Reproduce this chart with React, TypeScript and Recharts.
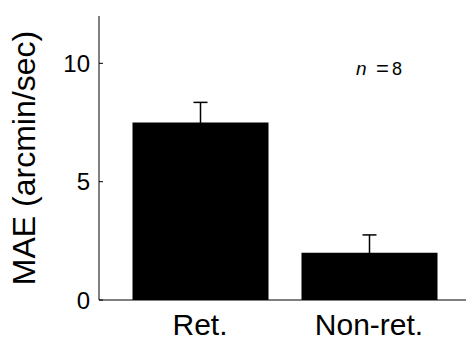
import { Bar, BarChart, ErrorBar, XAxis, YAxis } from 'recharts'

const groups = ['Ret.', 'Non-ret.']
const means = [7.5, 2.0]
const sems = [0.85, 0.75]
const yTicks = [0, 5, 10]

const rows = groups.map((name, i) => ({ name, mae: means[i], err: sems[i] }))

const font = '"Liberation Sans", Arial, sans-serif'

function YTick({ x, y, payload }: any) {
  return (
    <g>
      <line x1={x} x2={x + 4} y1={y} y2={y} stroke="#000" />
      <text x={x - 9} y={y} dy="0.36em" textAnchor="end" fontSize={24} fontFamily={font} fill="#000">
        {payload.value}
      </text>
    </g>
  )
}

function YLabel({ viewBox }: any) {
  const cy = viewBox.y + viewBox.height / 2
  return (
    <text
      x={35}
      y={cy}
      transform={`rotate(-90, 35, ${cy})`}
      textAnchor="middle"
      fontSize={32}
      fontFamily={font}
      fill="#000"
    >
      MAE (arcmin/sec)
    </text>
  )
}

export default function App() {
  return (
    <div style={{ position: 'relative', width: 466, height: 342, overflow: 'hidden', background: '#fff' }}>
      <style>{'body{margin:0}'}</style>
      <BarChart width={470} height={342} data={rows} margin={{ top: 16, right: 0, bottom: 0, left: 0 }} barCategoryGap={0}>
        <XAxis
          dataKey="name"
          padding={{ left: 16.5, right: 16.5 }}
          tickLine={false}
          tickSize={0}
          tickMargin={14}
          height={42}
          axisLine={{ stroke: '#000' }}
          tick={{ fontSize: 30, fontFamily: font, fill: '#000' }}
        />
        <XAxis xAxisId="top" dataKey="name" orientation="top" height={0} tick={false} tickLine={false} axisLine={{ stroke: '#000' }} />
        <YAxis
          domain={[0, 12]}
          ticks={yTicks}
          width={99}
          tickSize={0}
          tickMargin={0}
          axisLine={{ stroke: '#000' }}
          tick={<YTick />}
          label={<YLabel />}
        />
        <Bar dataKey="mae" fill="#000" barSize={136} isAnimationActive={false}>
          <ErrorBar dataKey="err" width={7} stroke="#000" strokeWidth={1.5} isAnimationActive={false} />
        </Bar>
      </BarChart>
      <svg width={466} height={342} style={{ position: 'absolute', left: 0, top: 0, pointerEvents: 'none' }}>
        <g fontFamily={font} fill="#000">
          <text x={356} y={75} fontSize={19} fontStyle="italic">n</text>
          <text x={376} y={76} fontSize={22}>=</text>
          <text x={392} y={75} fontSize={18}>8</text>
        </g>
      </svg>
    </div>
  )
}
